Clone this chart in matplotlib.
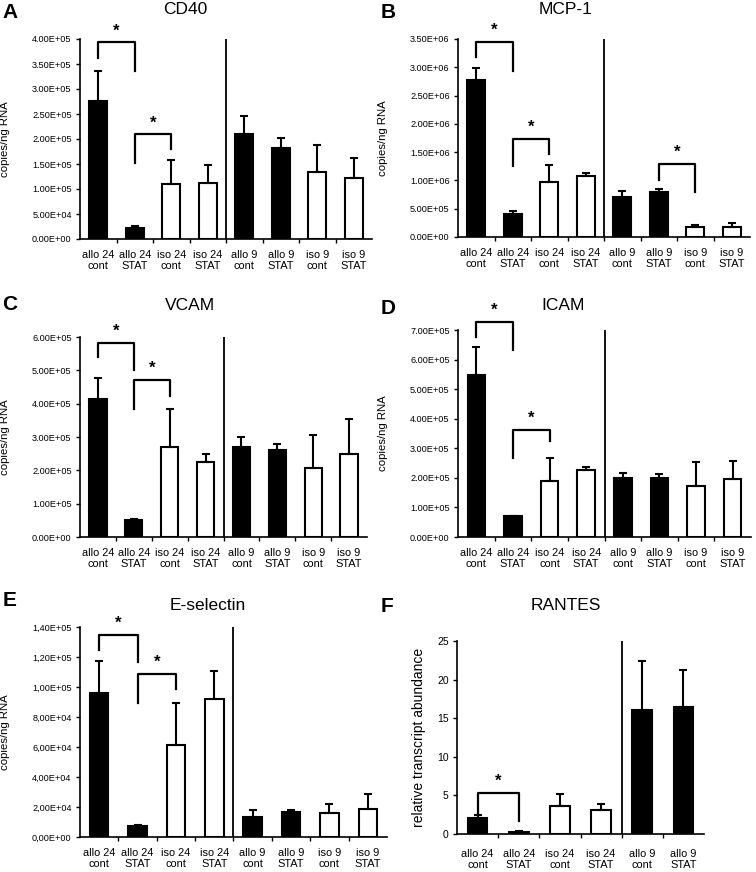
import numpy as np
import matplotlib.pyplot as plt

plt.rcParams['font.family'] = ['Liberation Sans', 'DejaVu Sans']

W, H = 756, 872

categories = ['allo 24\ncont', 'allo 24\nSTAT', 'iso 24\ncont', 'iso 24\nSTAT',
              'allo 9\ncont', 'allo 9\nSTAT', 'iso 9\ncont', 'iso 9\nSTAT']
filled = [True, True, False, False, True, True, False, False]

# CD40
cd40 = [2.75e5, 0.22e5, 1.10e5, 1.12e5, 2.09e5, 1.81e5, 1.33e5, 1.21e5]
cd40_err = [0.61e5, 0.04e5, 0.47e5, 0.36e5, 0.36e5, 0.21e5, 0.54e5, 0.41e5]
cd40_sig = [(0, 1, 3.93e5, 3.61e5, 3.36e5), (1, 2, 2.09e5, 1.52e5, 1.80e5)]

# MCP-1
mcp1 = [2.77e6, 0.41e6, 0.98e6, 1.08e6, 0.71e6, 0.79e6, 0.18e6, 0.18e6]
mcp1_err = [0.22e6, 0.05e6, 0.30e6, 0.05e6, 0.10e6, 0.05e6, 0.04e6, 0.07e6]
mcp1_sig = [(0, 1, 3.44e6, 3.18e6, 2.94e6), (1, 2, 1.73e6, 1.25e6, 1.47e6),
            (5, 6, 1.29e6, 1.01e6, 0.79e6)]

# VCAM
vcam = [4.15e5, 0.52e5, 2.70e5, 2.25e5, 2.71e5, 2.62e5, 2.06e5, 2.50e5]
vcam_err = [0.63e5, 0.01e5, 1.15e5, 0.25e5, 0.30e5, 0.17e5, 1.01e5, 1.05e5]
vcam_sig = [(0, 1, 5.83e5, 5.40e5, 5.00e5), (1, 2, 4.70e5, 3.85e5, 4.24e5)]

# ICAM
icam = [5.47e5, 0.71e5, 1.88e5, 2.26e5, 2.00e5, 2.01e5, 1.73e5, 1.95e5]
icam_err = [0.94e5, 0.0, 0.79e5, 0.11e5, 0.17e5, 0.12e5, 0.81e5, 0.61e5]
icam_sig = [(0, 1, 7.28e5, 6.77e5, 6.32e5), (1, 2, 3.61e5, 2.67e5, 3.25e5)]

# E-selectin
esel = [9.60e4, 0.76e4, 6.11e4, 9.18e4, 1.33e4, 1.67e4, 1.60e4, 1.89e4]
esel_err = [2.16e4, 0.06e4, 2.85e4, 1.92e4, 0.49e4, 0.11e4, 0.62e4, 1.00e4]
esel_sig = [(0, 1, 13.5e4, 12.44e4, 11.67e4), (1, 2, 10.84e4, 8.96e4, 9.89e4)]

# RANTES
rantes_cats = categories[:6]
rantes = [2.07, 0.20, 3.57, 3.05, 16.0, 16.4]
rantes_err = [0.43, 0.14, 1.63, 0.82, 6.4, 4.8]
rantes_sig = [(0, 1, 5.29, 2.5, 1.63)]
rantes_filled = [True, True, False, False, True, True]


def rect(l, t, r, b):
    return [l / W, 1 - b / H, (r - l) / W, (b - t) / H]


def panel(fig, box, cats, vals, errs, fills, sig, yticks, fmt, title,
          title_xy, letter, letter_xy, ylabel, ylabel_x, xpad=8, ylsize=8.2,
          ytsize=6.6):
    ax = fig.add_axes(rect(*box))
    n = len(cats)
    x = np.arange(n)
    colors = ['black' if f else 'white' for f in fills]
    ax.bar(x, vals, width=0.48, color=colors, edgecolor='black',
           linewidth=1.5, zorder=2)
    ax.errorbar(x, vals, yerr=[np.zeros(n), errs], fmt='none', ecolor='black',
                elinewidth=1.5, capsize=3.2, capthick=1.5, zorder=3)
    ax.axvline(3.5, color='black', lw=1.3, zorder=1)
    for i, j, top, yl, yr in sig:
        ax.plot([i, i, j, j], [yl, top, top, yr], color='black', lw=1.6,
                clip_on=False, zorder=4)
        ax.annotate('*', xy=((i + j) / 2, top), xytext=(0, 3),
                    textcoords='offset points', ha='center', va='bottom',
                    fontsize=12, fontweight='bold', annotation_clip=False)
    ax.set_xlim(-0.5, n - 0.5)
    ax.set_ylim(0, yticks[-1])
    ax.set_yticks(yticks)
    ax.set_yticklabels([fmt(v) for v in yticks])
    ax.set_xticks(x)
    ax.set_xticklabels(cats, linespacing=1.1)
    ax.set_xticks(np.arange(0.5, n - 0.5), minor=True)
    ax.tick_params(axis='x', which='major', length=0, pad=xpad, labelsize=7.9)
    ax.tick_params(axis='x', which='minor', length=3, width=1, direction='out')
    ax.tick_params(axis='y', length=3, width=1, pad=3, labelsize=ytsize)
    for s in ['top', 'right']:
        ax.spines[s].set_visible(False)
    for s in ['left', 'bottom']:
        ax.spines[s].set_linewidth(1.2)
    ax.set_ylabel(ylabel, fontsize=ylsize)
    ax.yaxis.set_label_coords((ylabel_x - box[0]) / (box[2] - box[0]), 0.5)
    fig.text(title_xy[0] / W, 1 - title_xy[1] / H, title, ha='center',
             va='center', fontsize=12.5)
    fig.text(letter_xy[0] / W, 1 - letter_xy[1] / H, letter, ha='center',
             va='center', fontsize=15, fontweight='bold')
    return ax


sci = lambda v: f'{v:.2E}'
sci_comma = lambda v: f'{v:.2E}'.replace('.', ',')
integer = lambda v: f'{v:.0f}'

fig = plt.figure(figsize=(W / 100, H / 100), dpi=100)

panel(fig, (80, 39, 372, 239), categories, cd40, cd40_err, filled, cd40_sig,
      np.arange(0, 4.01e5, 0.5e5), sci, 'CD40', (185, 9), 'A', (10, 12),
      'copies/ng RNA', 10)
panel(fig, (458, 39, 750, 237), categories, mcp1, mcp1_err, filled, mcp1_sig,
      np.arange(0, 3.51e6, 0.5e6), sci, 'MCP-1', (566, 9), 'B', (388, 12),
      'copies/ng RNA', 388)
panel(fig, (80, 337, 367, 537), categories, vcam, vcam_err, filled, vcam_sig,
      np.arange(0, 6.01e5, 1e5), sci, 'VCAM', (190, 305), 'C', (10, 305),
      'copies/ng RNA', 10)
panel(fig, (458, 330, 751, 537), categories, icam, icam_err, filled, icam_sig,
      np.arange(0, 7.01e5, 1e5), sci, 'ICAM', (563, 305), 'D', (388, 308),
      'copies/ng RNA', 388)
panel(fig, (80, 627, 387, 837), categories, esel, esel_err, filled, esel_sig,
      np.arange(0, 1.41e5, 0.2e5), sci_comma, 'E-selectin', (208, 605), 'E',
      (10, 601), 'copies/ng RNA', 10)
panel(fig, (457, 641, 704, 834), rantes_cats, rantes, rantes_err,
      rantes_filled, rantes_sig, np.arange(0, 26, 5), integer, 'RANTES',
      (566, 605), 'F', (387, 606), 'relative transcript abundance', 426,
      xpad=11, ylsize=10, ytsize=7.5)

fig.savefig('out.png', dpi=100)
